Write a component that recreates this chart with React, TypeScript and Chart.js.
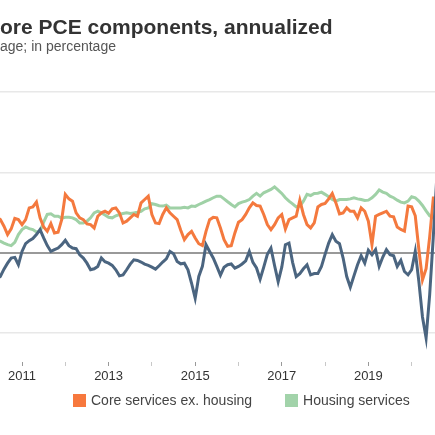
import { useEffect, useRef } from "react";
import { Chart, registerables } from "chart.js";

Chart.register(...registerables);

// First month of the series: June 2010, monthly data
const startYear = 2010;
const startMonth = 6;

const coreServices = [
  2.2, 2.06, 1.65, 1.13, 1.48, 2.13, 2.06,
  1.75, 2.06, 2.79, 2.85, 3.15, 2.17, 1.6, 1.33, 1.81, 1.23,
  1.27, 2.06, 3.63, 3.35, 3.21, 2.48, 2.17, 2.06, 1.79, 1.75,
  1.54, 2.27, 2.48, 2.58, 2.45, 2.73, 2.79, 2.48, 1.85, 1.96,
  2.17, 2.38, 2.27, 3.1, 3.31, 3.52, 2.38, 1.85, 1.81, 2.38,
  2.79, 2.48, 2.27, 2.06, 1.4, 0.81, 1.13, 1.33, 0.92, 0.56,
  0.44, 1.33, 2.06, 2.2, 2.17, 1.54, 0.81, 0.4, 0.44, 1.23,
  1.9, 2.06, 2.38, 2.79, 3.1, 2.94, 2.9, 2.38, 1.75, 1.44,
  1.75, 2.17, 2.38, 1.48, 2.06, 2.17, 2.27, 3.27, 2.38, 1.75,
  1.54, 1.85, 2.85, 3.0, 3.06, 3.35, 3.69, 3.1, 2.42, 2.48,
  2.79, 2.58, 2.58, 2.17, 2.79, 2.58, 1.96, 0.5, 2.27, 2.38,
  2.48, 2.58, 2.27, 2.23, 1.6, 1.45, 1.35, 2.9, 2.85, 2.3,
  0.2, -1.7, -1.0, 1.0, 3.4, 3.4,
];

const housingServices = [
  0.75, 0.71, 0.6, 0.5, 0.44, 0.65, 1.13,
  1.44, 1.6, 1.5, 1.44, 1.29, 1.33, 1.9, 2.38, 2.42, 2.27,
  2.27, 2.15, 2.21, 2.21, 2.17, 2.06, 1.85, 1.85, 1.96, 2.17,
  2.48, 2.58, 2.48, 2.35, 2.2, 2.17, 2.3, 2.38, 2.44, 2.48,
  2.44, 2.48, 2.52, 2.58, 2.73, 2.79, 3.05, 3.0, 2.92, 2.9,
  2.96, 2.79, 2.79, 2.79, 2.79, 2.83, 2.79, 2.9, 2.88, 3.0,
  3.1, 3.21, 3.31, 3.42, 3.52, 3.52, 3.35, 3.17, 3.0, 2.85,
  3.06, 3.15, 3.21, 3.31, 3.52, 3.69, 3.52, 3.73, 3.83, 3.94,
  4.1, 3.9, 3.69, 3.42, 3.21, 3.04, 2.85, 2.9, 3.21, 3.63,
  3.56, 3.69, 3.7, 3.77, 3.63, 3.48, 3.31, 3.21, 3.31, 3.31,
  3.31, 3.35, 3.42, 3.35, 3.31, 3.25, 3.27, 3.42, 3.63, 3.9,
  3.77, 3.69, 3.52, 3.42, 3.27, 3.15, 3.1, 3.21, 3.48, 3.42,
  3.21, 2.94, 2.6, 2.3, 2.17, 2.1,
];

const coreGoods = [
  -1.6, -1.48, -1.02, -0.65, -0.33, -0.29, -0.75,
  0.08, 0.56, 0.75, 0.88, 1.13, 1.44, 0.92, 0.44, 0.08, 0.19,
  0.29, 0.5, 0.77, 0.44, 0.29, 0.25, -0.13, -0.33, -0.65, -1.06,
  -1.0, -0.85, -0.33, -0.56, -0.65, -0.79, -1.06, -1.44, -1.38, -1.06,
  -0.71, -0.44, -0.48, -0.58, -0.71, -0.79, -0.9, -1.02, -0.81, -0.58,
  -0.38, 0.08, -0.06, -0.54, -0.69, -0.65, -1.06, -1.9, -2.83, -1.48,
  -0.85, 0.5, 0.08, -0.33, -0.85, -1.4, -0.9, -0.75, -0.7, -0.96,
  -0.85, -0.7, -0.5, 0.08, -0.6, -0.95, -1.65, -0.9, -0.1, 0.29,
  -0.8, -1.8, -0.9, 0.5, 0.6, -0.6, -1.48, -1.3, -1.0, -0.75,
  -1.38, -1.3, -1.3, -0.85, -0.1, 0.6, 1.125, 0.71, 0.56, -0.33,
  -1.48, -2.15, -1.44, -0.75, -0.19, -0.65, 0.15, -0.125, 0.19, -0.85,
  -0.27, 0.19, -0.125, -0.19, -0.85, -0.48, -1.17, -1.375, -1.06, 0.08,
  -1.8, -4.0, -5.3, -2.6, 1.0, 4.8,
];

// Category labels: one per month, "YYYY-MM"
const months = coreServices.map((_, i) => {
  const t = startMonth - 1 + i;
  return `${startYear + Math.floor(t / 12)}-${String((t % 12) + 1).padStart(2, "0")}`;
});

const tickYears = [2011, 2012, 2013, 2014, 2015, 2016, 2017, 2018, 2019, 2020];
const labeledYears = [2011, 2013, 2015, 2017, 2019];
const yGridValues = [-5, 0, 5, 10];

const titleText = "ore PCE components, annualized";
const subtitleText = "age; in percentage";

const seriesNames = ["Core services ex. housing", "Housing services", "Core goods"];
const seriesColors = ["#F4793E", "#9FD1A6", "#4B6580"];
const legendColors = ["#F7783D", "#A2D3AA"];

const baseYear = 2011;
const monthOffset = (label: string) => {
  const [y, m] = label.split("-").map(Number);
  return (y - baseYear) * 12 + (m - 1);
};

const FONT = '"Liberation Sans", Arial, Helvetica, sans-serif';

export default function App() {
  const canvasRef = useRef<HTMLCanvasElement | null>(null);

  useEffect(() => {
    if (!canvasRef.current) return;
    const toPoints = (vals: number[]) =>
      vals.map((v, i) => ({ x: monthOffset(months[i]), y: v }));

    const chart = new Chart(canvasRef.current, {
      type: "line",
      data: {
        datasets: [
          { label: seriesNames[0], data: toPoints(coreServices), borderColor: seriesColors[0], borderWidth: 3, pointRadius: 0, tension: 0, order: 1 },
          { label: seriesNames[1], data: toPoints(housingServices), borderColor: seriesColors[1], borderWidth: 3, pointRadius: 0, tension: 0, order: 2 },
          { label: seriesNames[2], data: toPoints(coreGoods), borderColor: seriesColors[2], borderWidth: 3, pointRadius: 0, tension: 0, order: 0 },
        ],
      },
      options: {
        responsive: false,
        animation: false,
        layout: { padding: { left: 0, right: 0, top: 0, bottom: 47.4 } },
        plugins: {
          legend: { display: false },
          tooltip: { enabled: false },
          title: {
            display: true,
            text: titleText,
            align: "start",
            color: "#333333",
            font: { family: FONT, size: 21, weight: "bold", lineHeight: 1 },
            padding: { top: 18, bottom: 0 },
          },
          subtitle: {
            display: true,
            text: subtitleText,
            align: "start",
            color: "#555555",
            font: { family: FONT, size: 14, lineHeight: 1.2 },
            padding: { top: 0, bottom: 36.2 },
          },
        },
        scales: {
          x: {
            type: "linear",
            min: -6.1,
            max: 114.47,
            border: { display: false },
            grid: {
              drawOnChartArea: false,
              drawTicks: true,
              tickLength: 4,
              tickWidth: 1,
              tickColor: (ctx: any) => {
                const yr = baseYear + Math.round((ctx.tick?.value ?? 0) / 12);
                return labeledYears.includes(yr) ? "#999999" : "#c8c8c8";
              },
            },
            afterBuildTicks: (axis: any) => {
              axis.ticks = tickYears.map((y) => ({ value: (y - baseYear) * 12 }));
            },
            ticks: {
              autoSkip: false,
              maxRotation: 0,
              minRotation: 0,
              padding: 3,
              color: "#333333",
              font: { family: FONT, size: 13 },
              callback: (v: any) => {
                const yr = baseYear + Math.round(Number(v) / 12);
                return labeledYears.includes(yr) ? String(yr) : "";
              },
            },
          },
          y: {
            min: -6.8,
            max: 10,
            border: { display: false },
            afterBuildTicks: (axis: any) => {
              axis.ticks = yGridValues.map((v) => ({ value: v }));
            },
            grid: {
              drawTicks: false,
              color: (ctx: any) => (ctx.tick?.value === 0 ? "#999999" : "#e8e8e8"),
              lineWidth: (ctx: any) => (ctx.tick?.value === 0 ? 2 : 1.5),
            },
            ticks: { display: false },
          },
        },
      },
    });
    return () => chart.destroy();
  }, []);

  return (
    <div
      style={{
        position: "fixed",
        left: 0,
        top: 0,
        width: 435,
        height: 435,
        background: "#ffffff",
        overflow: "hidden",
        fontFamily: FONT,
      }}
    >
      <canvas ref={canvasRef} width={435} height={435} style={{ display: "block" }} />
      <div
        style={{
          position: "absolute",
          left: 73,
          top: 392,
          height: 17,
          display: "flex",
          alignItems: "center",
          fontSize: 14,
          color: "#444444",
          whiteSpace: "nowrap",
        }}
      >
        {legendColors.map((c, i) => (
          <div
            key={seriesNames[i]}
            style={{ display: "flex", alignItems: "center", marginLeft: i === 0 ? 0 : 33 }}
          >
            <span style={{ width: 13, height: 13, background: c, display: "inline-block", marginRight: 5 }} />
            <span style={{ lineHeight: "17px" }}>{seriesNames[i]}</span>
          </div>
        ))}
      </div>
    </div>
  );
}
